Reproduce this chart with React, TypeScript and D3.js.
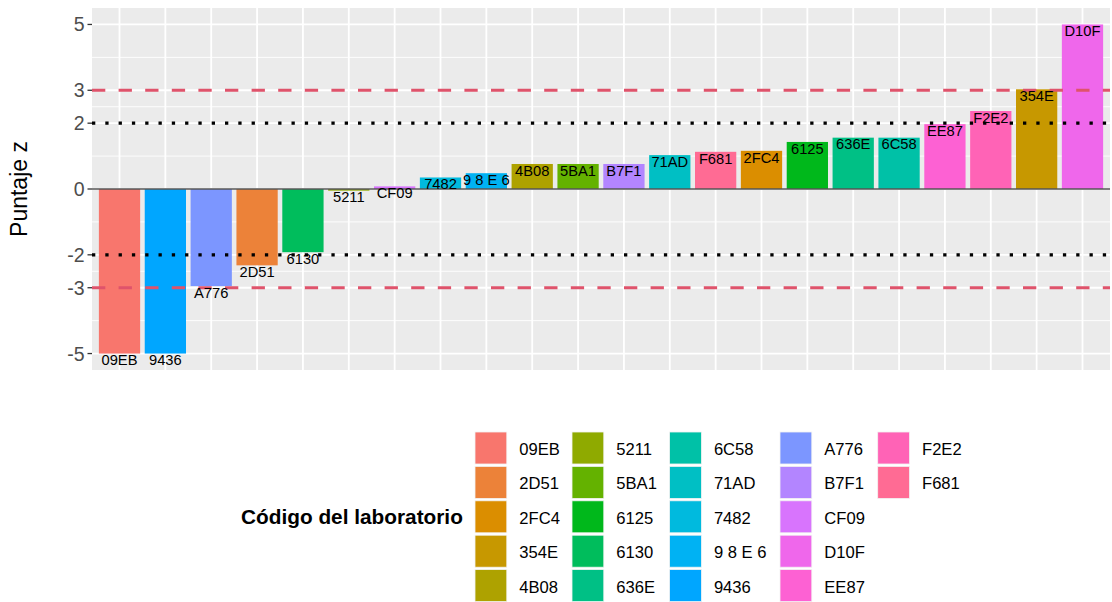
import React from "react";
import * as d3 from "d3";

// Bars in plotted order (ascending z-score)
const labCodes = ["09EB", "9436", "A776", "2D51", "6130", "5211", "CF09", "7482", "9 8 E 6", "4B08", "5BA1", "B7F1", "71AD", "F681", "2FC4", "6125", "636E", "6C58", "EE87", "F2E2", "354E", "D10F"];
const zScores = [-5, -5, -2.95, -2.32, -1.92, -0.05, 0.08, 0.35, 0.48, 0.76, 0.76, 0.76, 1.03, 1.13, 1.16, 1.43, 1.56, 1.56, 1.97, 2.37, 3.03, 5];
// Legend (factor level) order
const legendLevels = ["09EB", "2D51", "2FC4", "354E", "4B08", "5211", "5BA1", "6125", "6130", "636E", "6C58", "71AD", "7482", "9 8 E 6", "9436", "A776", "B7F1", "CF09", "D10F", "EE87", "F2E2", "F681"];
const yTicks = [-5, -3, -2, 0, 2, 3, 5];
const yMinor = [-4, -2.5, -1, 1, 2.5, 4];
const dashedRefs = [-3, 3];
const dottedRefs = [-2, 2];

// ggplot2 hue palette (polar LUV -> sRGB)
function hclToHex(h: number, c: number, l: number): string {
  const Xn = 95.047, Yn = 100, Zn = 108.883;
  const den = Xn + 15 * Yn + 3 * Zn;
  const un = (4 * Xn) / den, vn = (9 * Yn) / den;
  const hr = (h * Math.PI) / 180;
  const u = c * Math.cos(hr), v = c * Math.sin(hr);
  const Y = Yn * (l > 8 ? Math.pow((l + 16) / 116, 3) : l / 903.3);
  const up = u / (13 * l) + un, vp = v / (13 * l) + vn;
  const X = (Y * 9 * up) / (4 * vp);
  const Z = (Y * (12 - 3 * up - 20 * vp)) / (4 * vp);
  const x = X / 100, y = Y / 100, z = Z / 100;
  const lin = [
    3.2404542 * x - 1.5371385 * y - 0.4985314 * z,
    -0.969266 * x + 1.8760108 * y + 0.041556 * z,
    0.0556434 * x - 0.2040259 * y + 1.0572252 * z,
  ];
  const g = lin.map((t) => {
    const s = t <= 0.0031308 ? 12.92 * t : 1.055 * Math.pow(t, 1 / 2.4) - 0.055;
    const cl = Math.max(0, Math.min(1, s));
    return Math.round(cl * 255);
  });
  return "#" + g.map((n) => n.toString(16).padStart(2, "0")).join("");
}

const nLev = legendLevels.length;
const palette = legendLevels.map((_, i) => hclToHex(15 + (i * 360) / nLev, 100, 65));
const colorScale = d3.scaleOrdinal<string, string>().domain(legendLevels).range(palette);

const FONT = "'Liberation Sans', Arial, Helvetica, sans-serif";

export default function App() {
  const W = 1112, H = 602;
  const panel = { left: 92, right: 1110, top: 8, bottom: 370 };
  const x = d3.scaleBand<string>().domain(labCodes).range([panel.left, panel.right]).paddingInner(0.1).paddingOuter(0.15);
  const y = d3.scaleLinear().domain([-5.5, 5.5]).range([panel.bottom, panel.top]);
  const bw = x.bandwidth();

  const legendColX = [475, 572, 669.6, 780, 877.7];
  const legendTop = 432;
  const rowPitch = 34.4;
  const keyW = 31.8, keyH = 32;
  const nRows = 5;
  const barFs = 14.7;
  const tickFs = 19.5;
  const legFs = 16.6;

  return (
    <svg width={W} height={H} style={{ position: "absolute", left: 0, top: 0, background: "#fff" }} fontFamily={FONT}>
      <rect x={0} y={0} width={W} height={H} fill="#fff" />
      {/* panel */}
      <rect x={panel.left} y={panel.top} width={panel.right - panel.left} height={panel.bottom - panel.top} fill="#EBEBEB" />
      {yMinor.map((t) => (
        <line key={"mn" + t} x1={panel.left} x2={panel.right} y1={y(t)} y2={y(t)} stroke="#fff" strokeWidth={0.9} />
      ))}
      {yTicks.map((t) => (
        <line key={"mj" + t} x1={panel.left} x2={panel.right} y1={y(t)} y2={y(t)} stroke="#fff" strokeWidth={1.8} />
      ))}
      {labCodes.map((c) => (
        <line key={"vx" + c} x1={(x(c) as number) + bw / 2} x2={(x(c) as number) + bw / 2} y1={panel.top} y2={panel.bottom} stroke="#fff" strokeWidth={1.8} />
      ))}
      {/* bars */}
      {labCodes.map((c, i) => {
        const v = zScores[i];
        const y0 = y(Math.max(0, v));
        const y1 = y(Math.min(0, v));
        return <rect key={"b" + c} x={x(c) as number} y={y0} width={bw} height={Math.max(0.8, y1 - y0)} fill={colorScale(c)} />;
      })}
      {/* zero line */}
      <line x1={panel.left} x2={panel.right} y1={y(0)} y2={y(0)} stroke="#555" strokeWidth={1.3} />
      {/* reference lines */}
      {dashedRefs.map((t) => (
        <line key={"ds" + t} x1={panel.left} x2={panel.right} y1={y(t)} y2={y(t)} stroke="#DF536B" strokeWidth={3.2} strokeDasharray="13.3 13.3" />
      ))}
      {dottedRefs.map((t) => (
        <line key={"dt" + t} x1={panel.left} x2={panel.right} y1={y(t)} y2={y(t)} stroke="#000" strokeWidth={3.2} strokeDasharray="3.3 10" />
      ))}
      {/* bar labels */}
      {labCodes.map((c, i) => (
        <text key={"t" + c} x={(x(c) as number) + bw / 2} y={y(zScores[i]) + 0.72 * barFs + 1.2} fontSize={barFs} textAnchor="middle" fill="#000">
          {c}
        </text>
      ))}
      {/* y axis */}
      {yTicks.map((t) => (
        <g key={"yt" + t}>
          <line x1={panel.left - 4.5} x2={panel.left} y1={y(t)} y2={y(t)} stroke="#333" strokeWidth={1.3} />
          <text x={panel.left - 7.5} y={y(t) + 0.36 * tickFs} fontSize={tickFs} textAnchor="end" fill="#4D4D4D">
            {t}
          </text>
        </g>
      ))}
      <text transform={`translate(26.5, ${(panel.top + panel.bottom) / 2}) rotate(-90)`} fontSize={23} textAnchor="middle" fill="#000">
        Puntaje z
      </text>
      {/* legend */}
      <text x={241} y={legendTop + (nRows * rowPitch) / 2 - 1.5 + 0.36 * 20.8} fontSize={20.8} fontWeight="bold" fill="#000">
        Código del laboratorio
      </text>
      {legendLevels.map((c, i) => {
        const col = Math.floor(i / nRows);
        const row = i % nRows;
        const kx = legendColX[col];
        const ky = legendTop + row * rowPitch;
        return (
          <g key={"lg" + c}>
            <rect x={kx} y={ky} width={keyW} height={keyH} fill={colorScale(c)} stroke="#F2F2F2" strokeWidth={0.8} />
            <text x={kx + 44.3} y={ky + keyH / 2 + 0.36 * legFs + 1} fontSize={legFs} fill="#000">
              {c}
            </text>
          </g>
        );
      })}
    </svg>
  );
}
